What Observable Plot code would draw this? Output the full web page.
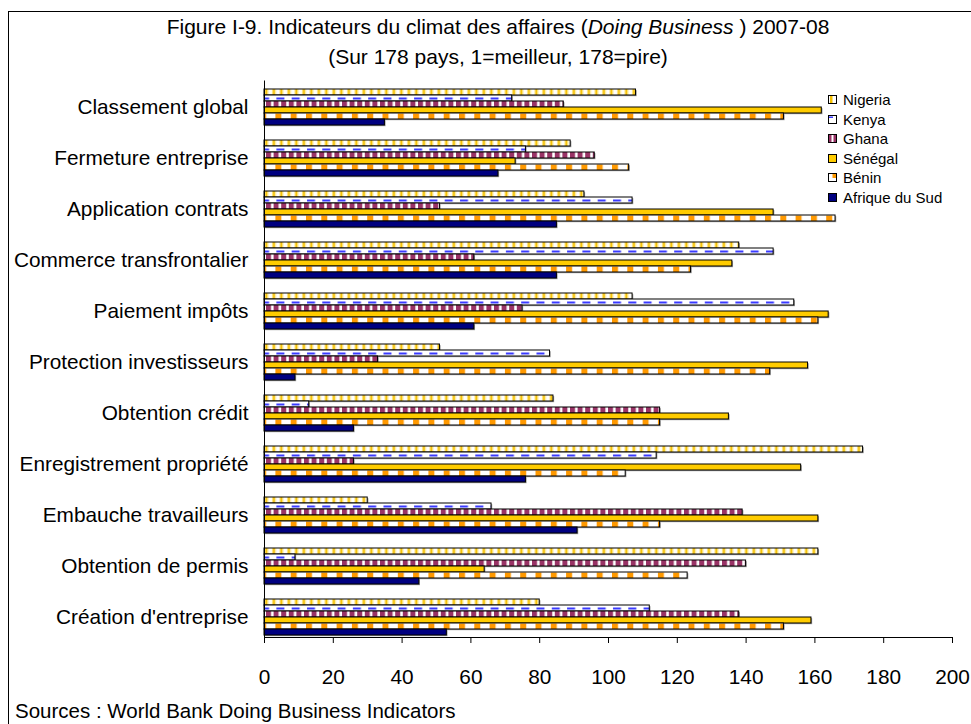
<!DOCTYPE html>
<html><head><meta charset="utf-8">
<script src="https://cdn.jsdelivr.net/npm/d3@7"></script>
<script src="https://cdn.jsdelivr.net/npm/@observablehq/plot@0.6"></script>
<style>
body{margin:0;background:#fff;font-family:"Liberation Sans",Arial,sans-serif;color:#000;}
#frame{position:absolute;left:8px;top:11px;width:1000px;height:800px;border-left:1px solid #000;border-top:1px solid #000;}
#chart{position:absolute;left:0;top:0;}
.t{position:absolute;left:498px;transform:translateX(-50%);white-space:nowrap;font-size:21px;line-height:24px;}
#src{position:absolute;left:15px;top:701px;font-size:20.5px;line-height:20px;white-space:nowrap;}
#legend{position:absolute;left:828px;top:90px;}
.li{position:absolute;left:0;height:19px;white-space:nowrap;font-size:15px;line-height:19px;}
.li svg{position:absolute;left:0;top:5px;}
.li span{position:absolute;left:15px;top:0;}
</style></head><body>
<div id="frame"></div>
<svg width="0" height="0" style="position:absolute">
<defs>
<pattern id="p-nigeria" patternUnits="userSpaceOnUse" width="7.5" height="7">
<rect width="7.5" height="7" fill="#fff"/><rect x="2" width="1" height="7" fill="#FFE680"/><rect x="3" width="2" height="7" fill="#F5C000"/><rect x="5" width="1" height="7" fill="#FFE680"/>
</pattern>
<pattern id="p-kenya" patternUnits="userSpaceOnUse" width="15.3" height="7">
<rect width="15.3" height="7" fill="#fff"/><rect x="1" y="2.5" width="8" height="2" fill="#3a3aff"/>
</pattern>
<pattern id="p-ghana" patternUnits="userSpaceOnUse" width="7.6" height="7">
<rect width="7.6" height="7" fill="#fff"/><rect x="0" width="5" height="7" fill="#993366"/>
</pattern>
<pattern id="p-benin" patternUnits="userSpaceOnUse" width="15.3" height="7">
<rect width="15.3" height="7" fill="#fff"/><rect x="0" y="0.5" width="6" height="6" fill="#FF9900"/>
</pattern>
</defs>
</svg>
<div id="chart"></div>
<div class="t" style="top:15px">Figure I-9. Indicateurs du climat des affaires (<i>Doing Business</i> ) 2007-08</div>
<div class="t" style="top:45px">(Sur 178 pays, 1=meilleur, 178=pire)</div>
<div id="legend"></div>
<div id="src">Sources : World Bank Doing Business Indicators</div>
<script>
const categories = ["Classement global","Fermeture entreprise","Application contrats","Commerce transfrontalier","Paiement impôts","Protection investisseurs","Obtention crédit","Enregistrement propriété","Embauche travailleurs","Obtention de permis","Création d'entreprise"];
const countries = ["Nigeria","Kenya","Ghana","Sénégal","Bénin","Afrique du Sud"];
const nigeria      = [108, 89,  93, 138, 107,  51,  84, 174,  30, 161,  80];
const kenya        = [ 72, 76, 107, 148, 154,  83,  13, 114,  66,   9, 112];
const ghana        = [ 87, 96,  51,  61,  75,  33, 115,  26, 139, 140, 138];
const senegal      = [162, 73, 148, 136, 164, 158, 135, 156, 161,  64, 159];
const benin        = [151,106, 166, 124, 161, 147, 115, 105, 115, 123, 151];
const afriqueDuSud = [ 35, 68,  85,  85,  61,   9,  26,  76,  91,  45,  53];
const xTicks = [0,20,40,60,80,100,120,140,160,180,200];

const series = [nigeria, kenya, ghana, senegal, benin, afriqueDuSud];
const fills = ["url(#p-nigeria)","url(#p-kenya)","url(#p-ghana)","#FFCC00","url(#p-benin)","#000080"];

const data = [];
categories.forEach((c, i) => countries.forEach((k, j) => data.push({category: c, country: k, value: series[j][i]})));

const chart = Plot.plot({
  width: 971, height: 700,
  marginLeft: 264, marginRight: 19, marginTop: 77, marginBottom: 53,
  style: {fontFamily: '"Liberation Sans", Arial, sans-serif', fontSize: "20.8px", background: "transparent", overflow: "visible", color: "#000"},
  x: {domain: [0, 200], ticks: xTicks, tickSize: 6, tickPadding: 26, line: true, label: null},
  y: {domain: countries, axis: null, padding: 0},
  fy: {domain: categories, axis: "left", label: null, tickSize: 0, tickPadding: 16, paddingInner: 0.19, paddingOuter: 0.1},
  color: {domain: countries, range: fills},
  facet: {data, y: "category"},
  marks: [
    Plot.barX(data, {x: "value", y: "country", fill: "#9a9a9a", dx: 1.2, dy: 1.2}),
    Plot.barX(data, {x: "value", y: "country", fill: "country", stroke: "#000", strokeWidth: 1}),
    Plot.ruleX([0], {stroke: "#000", insetTop: -5.5, insetBottom: -5.5})
  ]
});
document.getElementById("chart").appendChild(chart);

// align pattern tiles with the bars they fill
["nigeria","kenya","ghana","benin"].forEach(id => {
  const r = chart.querySelector(`rect[fill="url(#p-${id})"]`);
  if (r) {
    const p = document.getElementById("p-" + id);
    p.setAttribute("y", r.getAttribute("y"));
  }
});

// legend
const sw = {
  "Nigeria": '<rect x="0.5" y="0.5" width="8" height="8" fill="#fff" stroke="#000"/><rect x="2" y="1" width="2.5" height="7" fill="#F5C000"/>',
  "Kenya": '<rect x="0.5" y="0.5" width="8" height="8" fill="#fff" stroke="#000"/><rect x="1" y="1.5" width="4" height="1.5" fill="#3a3aff"/>',
  "Ghana": '<rect x="0.5" y="0.5" width="8" height="8" fill="#fff" stroke="#000"/><rect x="1" y="1" width="2.5" height="7" fill="#993366"/><rect x="5.5" y="1" width="2.5" height="7" fill="#993366"/>',
  "Sénégal": '<rect x="0.5" y="0.5" width="8" height="8" fill="#FFCC00" stroke="#000"/>',
  "Bénin": '<rect x="0.5" y="0.5" width="8" height="8" fill="#fff" stroke="#000"/><rect x="4.5" y="1" width="3.5" height="4" fill="#FF9900"/>',
  "Afrique du Sud": '<rect x="0.5" y="0.5" width="8" height="8" fill="#000080" stroke="#000"/>'
};
const lg = document.getElementById("legend");
countries.forEach((c, i) => {
  const d = document.createElement("div");
  d.className = "li";
  d.style.top = (i * 19.5) + "px";
  d.innerHTML = `<svg width="9" height="9">${sw[c]}</svg><span>${c}</span>`;
  lg.appendChild(d);
});
</script>
</body></html>
